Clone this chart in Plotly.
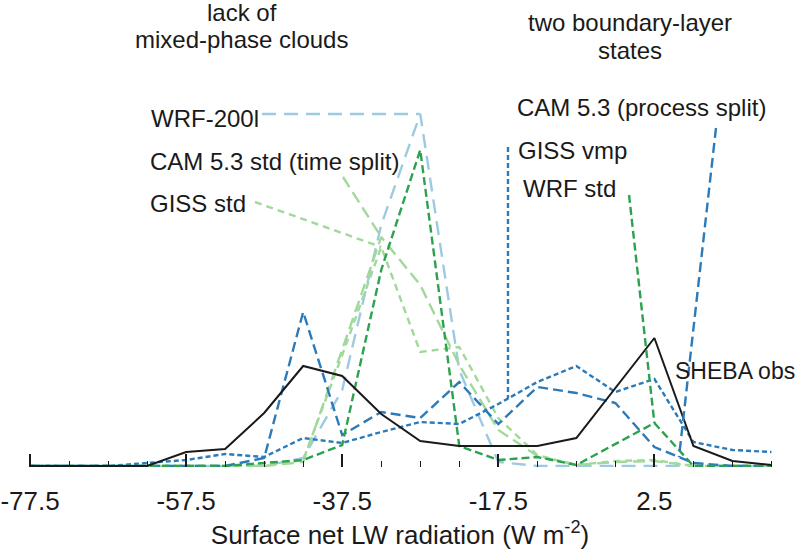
import numpy as np
import plotly.graph_objects as go

# Bin centres (W m-2)
bins = [-77.5, -72.5, -67.5, -62.5, -57.5, -52.5, -47.5, -42.5, -37.5, -32.5,
        -27.5, -22.5, -17.5, -12.5, -7.5, -2.5, 2.5, 7.5, 12.5, 17.5]

# Relative frequency (%) per bin
sheba_obs = [0, 0, 0, 0, 0.7, 0.85, 2.65, 5.0, 4.5, 2.6,
             1.25, 1.0, 1.0, 1.0, 1.4, 3.9, 6.4, 1.0, 0.25, 0.05]
wrf_200l = [0, 0, 0, 0, 0, 0, 0, 0.4, 3.8, 12.05,
            17.6, 4.8, 0.2, 0, 0, 0, 0, 0, 0, 0]
cam_process_split = [0, 0, 0, 0, 0, 0, 0.4, 7.7, 1.55, 2.7,
                     2.4, 4.2, 2.1, 3.95, 3.65, 3.15, 0.95, 0.15, 0, 0]
giss_vmp = [0, 0, 0, 0.15, 0.3, 0.6, 0.45, 1.4, 1.15, 1.7,
            2.2, 2.1, 3.1, 4.2, 5.0, 3.7, 4.35, 1.2, 0.8, 0.7]
wrf_std = [0, 0, 0, 0, 0, 0, 0.15, 0.3, 1.05, 9.8,
           15.8, 1.0, 0.3, 0.45, 0.05, 1.1, 2.15, 0, 0, 0]
cam_time_split = [0, 0, 0, 0, 0, 0, 0, 0.2, 5.8, 11.45,
                  9.05, 5.05, 1.8, 0.5, 0.05, 0.2, 0.25, 0, 0, 0]
giss_std = [0, 0, 0, 0, 0, 0, 0, 0.3, 5.55, 10.95,
            5.7, 5.95, 2.4, 0.55, 0.05, 0.25, 0.3, 0, 0, 0]

# Series labels
series_names = ["WRF-200l", "CAM 5.3 std (time split)", "GISS std",
                "CAM 5.3 (process split)", "GISS vmp", "WRF std", "SHEBA obs"]

# Label text anchors (x, y) in data units
label_x = [-62.13, -62.25, -62.25, -15.23, -15.1, -14.46, 4.95]
label_y = [17.4, 15.25, 13.15, 17.95, 15.8, 13.9, 4.75]
label_size = [24, 24, 24, 24, 24, 24, 23]

# Leader lines: start point near the label, end x on the curve
leader_start_x = [-47.78, -37.4, -48.67, 10.39, -16.26, -0.75, None]
leader_start_y = [17.6, 14.45, 13.2, 16.9, 15.95, 13.55, None]
leader_end_x = [-27.5, -32.5, -32.5, 5.65, -16.26, 2.5, None]

# Group headings
heading_left = ["lack of", "mixed-phase clouds"]
heading_right = ["two boundary-layer", "states"]

x_ticks = [-77.5, -57.5, -37.5, -17.5, 2.5]

series_values = [wrf_200l, cam_time_split, giss_std, cam_process_split,
                 giss_vmp, wrf_std, sheba_obs]
styles = [
    dict(color="#9ecae1", dash="14px,8px", width=2.4),
    dict(color="#a1d99b", dash="12px,6px", width=2.4),
    dict(color="#a1d99b", dash="7px,5px", width=2.4),
    dict(color="#2b7bba", dash="10px,5px", width=2.4),
    dict(color="#2b7bba", dash="5px,3px", width=2.4),
    dict(color="#2ca24f", dash="8px,4px", width=2.4),
    dict(color="#1a1a1a", dash="solid", width=2.0),
]

fig = go.Figure()

for name, vals, st in zip(series_names, series_values, styles):
    fig.add_trace(go.Scatter(x=bins, y=vals, mode="lines", name=name,
                             line=st, showlegend=False, hoverinfo="skip"))

# Leader lines, same style as their series
for i, (name, vals, st) in enumerate(zip(series_names, series_values, styles)):
    if leader_start_x[i] is None:
        continue
    ex = leader_end_x[i]
    ey = float(np.interp(ex, bins, vals))
    fig.add_trace(go.Scatter(x=[leader_start_x[i], ex], y=[leader_start_y[i], ey],
                             mode="lines", line=st, showlegend=False,
                             hoverinfo="skip"))

family = "Liberation Sans, Arial, Helvetica, sans-serif"
font = dict(family=family, size=24, color="#1a1a1a")
axis_font = dict(family=family, size=26, color="#1a1a1a")

for name, lx, ly, fs in zip(series_names, label_x, label_y, label_size):
    fig.add_annotation(x=lx, y=ly, text=name, showarrow=False,
                       xanchor="left", yanchor="middle",
                       font=dict(family=family, size=fs, color="#1a1a1a"),
                       borderpad=0)

for txt, yy in zip(heading_left, [22.7, 21.35]):
    fig.add_annotation(x=-50.34, y=yy, text=txt, showarrow=False,
                       xanchor="center", yanchor="middle", font=font)
for txt, yy in zip(heading_right, [22.2, 20.8]):
    fig.add_annotation(x=-0.63, y=yy, text=txt, showarrow=False,
                       xanchor="center", yanchor="middle", font=font)

fig.update_layout(
    width=800, height=550,
    margin=dict(l=0, r=0, t=0, b=83),
    paper_bgcolor="white", plot_bgcolor="white",
    font=font,
    xaxis=dict(
        range=[-81.344, 21.154],
        tickmode="array", tickvals=x_ticks,
        ticktext=[f"{v:g}" for v in x_ticks],
        ticks="inside", ticklen=13, tickwidth=1.5, tickcolor="#1a1a1a",
        minor=dict(tickmode="linear", tick0=-77.5, dtick=5, ticks="inside",
                   ticklen=6, tickwidth=1.2, tickcolor="#1a1a1a", showgrid=False),
        showgrid=False, zeroline=False, showline=False,
        ticklabelstandoff=16,
        tickfont=axis_font,
        title=dict(text="Surface net LW radiation (W m<sup>-2</sup>)",
                   font=axis_font, standoff=13),
        automargin=False,
    ),
    yaxis=dict(range=[-0.05, 23.3], visible=False, showgrid=False,
               zeroline=False),
)

fig.write_html("out.html", config={"displayModeBar": False},
               post_script="document.body.style.margin='0';")
